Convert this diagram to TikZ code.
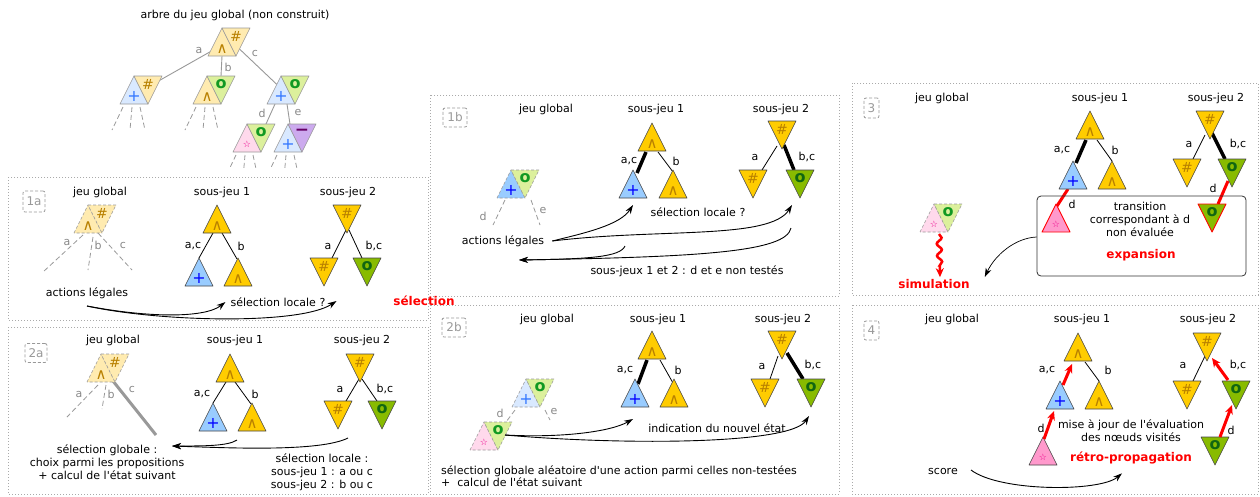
\documentclass[tikz,border=0pt]{standalone}
\usepackage{fontspec}
\setmainfont{DejaVu Sans}
\usetikzlibrary{calc,arrows.meta,decorations.pathmorphing}
\pgfdeclarelayer{back}
\pgfdeclarelayer{bg}
\pgfsetlayers{back,bg,main}
\definecolor{cGold}{HTML}{FFCC00}
\definecolor{cLY}{HTML}{FFEBB0}
\definecolor{cBlue}{HTML}{99CCFF}
\definecolor{cLB}{HTML}{D9E9FF}
\definecolor{cGreen}{HTML}{88BB00}
\definecolor{cLG}{HTML}{DCF09C}
\definecolor{cPink}{HTML}{FF99CC}
\definecolor{cLP}{HTML}{FFD9EC}
\definecolor{cPurple}{HTML}{CCAAEE}
\definecolor{cSymG}{HTML}{B88000}
\definecolor{cSymB}{HTML}{0000FF}
\definecolor{cSymLB}{HTML}{3377FF}
\definecolor{cSymGr}{HTML}{116611}
\definecolor{cSymLGr}{HTML}{119922}
\definecolor{cSymPu}{HTML}{660066}
\definecolor{cTri}{HTML}{444444}
\definecolor{cGtri}{HTML}{999999}
\definecolor{cGed}{HTML}{999999}
\definecolor{cLbl}{HTML}{888888}
\definecolor{cPanel}{HTML}{AAAAAA}
\definecolor{cTag}{HTML}{999999}
\definecolor{cBox}{HTML}{333333}
\newcommand\syW{\textcolor{cSymG}{\fontsize{15}{15}\selectfont ∧}}
\newcommand\syH{\textcolor{cSymG}{\fontsize{14}{14}\selectfont\#}}
\newcommand\syP{\textcolor{cSymB}{\fontsize{16}{16}\selectfont +}}
\newcommand\syPl{\textcolor{cSymLB}{\fontsize{16}{16}\selectfont +}}
\newcommand\syO{\textcolor{cSymGr}{\bfseries\fontsize{16}{16}\selectfont o}}
\newcommand\syOl{\textcolor{cSymLGr}{\bfseries\fontsize{16}{16}\selectfont o}}
\newcommand\syS{\textcolor{magenta}{\fontsize{9}{9}\selectfont ☆}}
\newcommand\syM{\textcolor{cSymPu}{\bfseries\fontsize{17}{17}\selectfont −}}
\newcommand\apos{\textquotesingle}
\tikzset{
 tbox/.style={rectangle,minimum width=28pt,minimum height=28pt,inner sep=0pt,outer sep=0pt},
 tri/.style={draw=cTri,line width=0.6pt,line join=round},
 gtri/.style={draw=cGtri,line width=0.6pt},
 dsh/.style={dash pattern=on 3pt off 2pt},
 redtri/.style={draw=red,line width=0.9pt},
 sym/.style={inner sep=0pt,outer sep=0pt},
 txt/.style={font=\fontsize{11}{13}\selectfont,inner sep=0pt,align=center},
 glbl/.style={txt,text=cLbl},
 rtxt/.style={font=\bfseries\fontsize{12}{14}\selectfont,text=red,inner sep=0pt},
 panel/.style={draw=cPanel,line width=0.8pt,dash pattern=on 1pt off 2pt},
 tag/.style={draw=cTag,line width=0.8pt,dash pattern=on 3pt off 2pt,rounded corners=2pt,text=cTag,font=\fontsize{12}{12}\selectfont,inner sep=0pt},
 ed/.style={line width=0.8pt},
 thk/.style={line width=3.5pt},
 ged/.style={draw=cGed,line width=0.9pt},
 gdl/.style={draw=cGed,line width=0.8pt,dash pattern=on 5pt off 3pt},
 rline/.style={draw=red,line width=3pt},
 arr/.style={-{Stealth[length=9pt,width=6pt]},line width=0.9pt},
 rarr/.style={-{Stealth[length=9pt,width=8pt]},draw=red,line width=3pt},
}
\newcommand\utri[5][]{%
  \node[tbox] (#2) at (#3) {};
  \draw[tri,fill=#4,#1] (#2.south west) -- (#2.north) -- (#2.south east) -- cycle;
  \node[sym] (#2-s) at ($(#2.south)!0.26!(#2.north)$) {#5};}
\newcommand\dtri[5][]{%
  \node[tbox] (#2) at (#3) {};
  \draw[tri,fill=#4,#1] (#2.north west) -- (#2.north east) -- (#2.south) -- cycle;
  \node[sym] (#2-s) at ($(#2.north)!0.3!(#2.south)$) {#5};}
\newcommand\gpair[8][]{%
  \utri[gtri,#1]{#2u}{#3,#4}{#5}{#7}%
  \dtri[gtri,#1]{#2d}{#3+14,#4}{#6}{#8}}
\newcommand\stubs[2]{%
  \draw[gdl] ($(#1.south)+(-11,3)$) -- ++(-11*#2,23*#2);
  \draw[gdl] ($(#1.south)+(-2,3)$) -- ++(-2*#2,23*#2);
  \draw[gdl] ($(#1.south)+(6,3)$) -- ++(5*#2,23*#2);}
\begin{document}
\begin{tikzpicture}[x=1pt,y=-1pt]
\useasboundingbox (0,0) rectangle (1260,496);
\begin{pgfonlayer}{back}\fill[white] (0,0) rectangle (1260,496);\end{pgfonlayer}

% panels
\draw[panel] (8,177) rectangle (428,320);
\draw[panel] (8,327) rectangle (428,494);
\draw[panel] (430,95) rectangle (839,296);
\draw[panel] (430,305) rectangle (839,494);
\draw[panel] (852,83) rectangle (1258,295);
\draw[panel] (852,305) rectangle (1258,494);

% ---------- top tree
\node[txt] (ttl) at (235,15) {arbre du jeu global (non construit)};
\gpair{T0}{222}{42}{cLY}{cLY}{\syW}{\syH}
\gpair{T1}{134}{90}{cLB}{cLY}{\syPl}{\syH}
\gpair{T2}{207}{90}{cLY}{cLG}{\syW}{\syOl}
\gpair{T3}{281}{90}{cLB}{cLG}{\syPl}{\syOl}
\gpair{T4}{247}{138}{cLP}{cLG}{\syS}{\syOl}
\gpair{T5}{288}{138}{cLB}{cPurple}{\syPl}{\syM}
\begin{pgfonlayer}{bg}
\draw[ged] ($(T0u.south west)!0.15!(T0u.north)$) -- ($(T1d.north east)!0.15!(T1d.south)$);
\draw[ged] (T0u.south) -- (T2d.north);
\draw[ged] ($(T0d.north east)!0.75!(T0d.south)$) -- ($(T3u.south west)!0.7!(T3u.north)$);
\draw[ged] ($(T3u.south)+(-6,0)$) -- ($(T4d.north)+(5,0)$);
\draw[ged] ($(T3u.south)+(6,0)$) -- ($(T5u.north)!0.2!(T5u.south east)$);
\stubs{T1u}{1}
\stubs{T2u}{1}
\stubs{T4u}{0.6}
\stubs{T5u}{0.6}
\end{pgfonlayer}
\node[glbl] (Tla) at (199,50) {a};
\node[glbl] (Tlb) at (228,67) {b};
\node[glbl] (Tlc) at (255,53) {c};
\node[glbl] (Tld) at (262,113) {d};
\node[glbl] (Tle) at (298,112) {e};

% ---------- panel 1a
\node[tag,minimum width=22pt,minimum height=21pt] (g1a) at (34,201.5) {1a};
\node[txt] (h1a0) at (100,192) {jeu global};
\node[txt] (h1a1) at (222,192) {sous-jeu 1};
\node[txt] (h1a2) at (348,192) {sous-jeu 2};
\gpair[dsh]{A}{88}{219}{cLY}{cLY}{\syW}{\syH}
\utri{Ar}{217,219}{cGold}{\syW}
\utri{Aa}{199,272}{cBlue}{\syP}
\utri{Ab}{238,272}{cGold}{\syW}
\dtri{Br}{347,219}{cGold}{\syH}
\dtri{Ba}{324,272}{cGold}{\syH}
\dtri{Bb}{367,272}{cGreen}{\syO}
\begin{pgfonlayer}{bg}
\draw[gdl] ($(Au.south)+(-5,2)$) -- ++(-40,37);
\draw[gdl] ($(Au.south)+(5,4)$) -- ++(-5,33);
\draw[gdl] ($(Au.south)+(10,0)$) -- ++(34,37);
\draw[ed] ($(Ar.south)+(-4,0)$) -- (Aa.north);
\draw[ed] ($(Ar.south)+(5,0)$) -- ($(Ab.north)+(-1,1)$);
\draw[ed] ($(Br.south)+(-1,-3)$) -- ($(Ba.north)+(8,0)$);
\draw[ed] ($(Br.south)+(2,-3)$) -- ($(Bb.north)+(-5,0)$);
\end{pgfonlayer}
\node[glbl] (l1aa) at (67,242) {a};
\node[glbl] (l1ab) at (98,245) {b};
\node[glbl] (l1ac) at (123,245) {c};
\node[txt] (l1a1) at (193,246) {a,c};
\node[txt] (l1a2) at (241,246) {b};
\node[txt] (l1a3) at (328,246) {a};
\node[txt] (l1a4) at (374,246) {b,c};
\node[txt] (al1) at (87,293) {actions légales};
\node[txt] (sl1) at (278,302) {sélection locale ?};
\draw[arr] ($(al1.center)+(0,13)$) .. controls (150,318) and (205,318) .. ($(sl1.west)+(-5,0)$);
\draw[arr] ($(al1.center)+(0,13)$) .. controls (160,322) and (300,325) .. ($(sl1.east)+(11,-1)$);

\node[rtxt] (sel) at (424,301) {sélection};

% ---------- panel 2a
\node[tag,minimum width=22pt,minimum height=19pt] (g2a) at (36,353) {2a};
\node[txt] (h2a0) at (113,340) {jeu global};
\node[txt] (h2a1) at (235,340) {sous-jeu 1};
\node[txt] (h2a2) at (362,340) {sous-jeu 2};
\gpair[dsh]{C}{101}{368}{cLY}{cLY}{\syW}{\syH}
\utri{Dr}{230,368}{cGold}{\syW}
\utri{Da}{213,417}{cBlue}{\syP}
\utri{Db}{252,417}{cGold}{\syW}
\dtri{Er}{360,368}{cGold}{\syH}
\dtri{Ea}{338,415}{cGold}{\syH}
\dtri{Eb}{382,415}{cGreen}{\syO}
\begin{pgfonlayer}{bg}
\draw[gdl] ($(Cu.south)+(-3,3)$) -- ++(-31,32);
\draw[gdl] ($(Cu.south)+(5,3)$) -- ++(-4,24);
\draw[draw=cGed,line width=3pt] ($(Cd.south)+(-2,-1)$) -- ++(43,54);
\draw[ed] ($(Dr.south)+(-4,0)$) -- (Da.north);
\draw[ed] ($(Dr.south)+(5,0)$) -- ($(Db.north)+(-1,1)$);
\draw[ed] ($(Er.south)+(-1,-3)$) -- ($(Ea.north)+(8,0)$);
\draw[ed] ($(Er.south)+(2,-3)$) -- ($(Eb.north)+(-5,0)$);
\end{pgfonlayer}
\node[glbl] (l2aa) at (79,394) {a};
\node[glbl] (l2ab) at (111,394) {b};
\node[glbl] (l2ac) at (132,389) {c};
\node[txt] (l2a1) at (202,394) {a,c};
\node[txt] (l2a2) at (255,394) {b};
\node[txt] (l2a3) at (340,389) {a};
\node[txt] (l2a4) at (385,389) {b,c};
\node[txt] (sg) at (107,462) {sélection globale :\\choix parmi les propositions\\+ calcul de l\apos état suivant};
\node[txt] (sl2) at (322,472) {sélection locale :\\sous-jeu 1 : a ou c\\sous-jeu 2 : b ou c};
\coordinate (sgin) at (172,446);
\draw[arr] ($(Db.south)+(-15,9)$) .. controls (228,446) and (205,446) .. (sgin);
\draw[arr] ($(Eb.south)+(-34,9)$) .. controls (320,452) and (230,448) .. (sgin);

% ---------- panel 1b
\node[tag,minimum width=24pt,minimum height=19pt] (g1b) at (455,117.5) {1b};
\node[txt] (h1b0) at (546,109) {jeu global};
\node[txt] (h1b1) at (656,109) {sous-jeu 1};
\node[txt] (h1b2) at (781,109) {sous-jeu 2};
\gpair[dsh]{F}{511}{184}{cBlue}{cLG}{\syP}{\syOl}
\utri{Gr}{652,137}{cGold}{\syW}
\utri{Ga}{633,184}{cBlue}{\syP}
\utri{Gb}{673,184}{cGold}{\syW}
\dtri{Hr}{782,135}{cGold}{\syH}
\dtri{Ha}{753,184}{cGold}{\syH}
\dtri{Hb}{800,184}{cGreen}{\syO}
\begin{pgfonlayer}{bg}
\draw[gdl] ($(Fu.south)+(-6,2)$) -- ++(-12,25);
\draw[gdl] ($(Fd.south)+(6,2)$) -- ++(9,25);
\draw[thk] ($(Gr.south)+(-6,1)$) -- ($(Ga.north)+(4,3)$);
\draw[ed] ($(Gr.south)+(6,1)$) -- ($(Gb.north)+(0,2)$);
\draw[ed] ($(Hr.south)+(-5,-3)$) -- ($(Ha.north)+(9,0)$);
\draw[thk] ($(Hr.south)+(2,-4)$) -- ($(Hb.north)+(-6,0)$);
\end{pgfonlayer}
\node[glbl] (l1bd) at (483,216) {d};
\node[glbl] (l1be) at (543,210) {e};
\node[txt] (l1b1) at (629,161) {a,c};
\node[txt] (l1b2) at (676,161) {b};
\node[txt] (l1b3) at (755,157) {a};
\node[txt] (l1b4) at (807,157) {b,c};
\node[txt] (al2) at (503,241) {actions légales};
\node[txt] (sl3) at (698,212) {sélection locale ?};
\node[txt] (nt1) at (687,271) {sous-jeux 1 et 2 : d et e non testés};
\draw[arr] ($(al2.east)+(8,0)$) .. controls (585,233) and (620,225) .. ($(Ga.south)+(0,7)$);
\draw[arr] ($(al2.east)+(8,0)$) .. controls (660,228) and (770,240) .. ($(Hb.south)+(-8,7)$);
\coordinate (ntin) at (519,260);
\draw[arr] ($(Ga.south)+(-8,48)$) .. controls (620,257) and (590,259) .. (ntin);
\draw[arr] ($(Hb.south)+(-9,30)$) .. controls (786,252) and (700,257) .. (ntin);

% ---------- panel 2b
\node[tag,minimum width=24pt,minimum height=19pt] (g2b) at (454,327.5) {2b};
\node[txt] (h2b0) at (547,319) {jeu global};
\node[txt] (h2b1) at (658,319) {sous-jeu 1};
\node[txt] (h2b2) at (783,319) {sous-jeu 2};
\gpair[dsh]{J}{526}{393}{cLB}{cLG}{\syPl}{\syOl}
\gpair[dsh]{K}{484}{436}{cLP}{cLG}{\syS}{\syOl}
\utri{Lr}{652,345}{cGold}{\syW}
\utri{La}{635,393}{cBlue}{\syP}
\utri{Lb}{674,393}{cGold}{\syW}
\dtri{Mr}{782,345}{cGold}{\syH}
\dtri{Ma}{765,393}{cGold}{\syH}
\dtri{Mb}{811,393}{cGreen}{\syO}
\begin{pgfonlayer}{bg}
\draw[gdl] ($(Ju.south)+(-11,3)$) -- ($(Kd.north)+(8,0)$);
\draw[gdl] ($(Jd.south)+(5,3)$) -- ++(5,10);
\draw[thk] ($(Lr.south)+(-5,1)$) -- ($(La.north)+(3,5)$);
\draw[ed] ($(Lr.south)+(8,1)$) -- ($(Lb.north)+(-1,4)$);
\draw[ed] ($(Mr.south)+(-4,-3)$) -- ($(Ma.north)+(5,0)$);
\draw[thk] ($(Mr.south)+(5,-6)$) -- ($(Mb.north)+(-8,0)$);
\end{pgfonlayer}
\node[glbl] (l2bd) at (500,413) {d};
\node[glbl] (l2be) at (554,411) {e};
\node[txt] (l2b1) at (625,370) {a,c};
\node[txt] (l2b2) at (678,370) {b};
\node[txt] (l2b3) at (762,366) {a};
\node[txt] (l2b4) at (813,365) {b,c};
\node[txt] (ne) at (717,428) {indication du nouvel état};
\draw[arr] ($(Kd.center)+(7,-1)$) .. controls (560,438) and (610,432) .. ($(La.south)+(-2,12)$);
\draw[arr] ($(Kd.center)+(7,-1)$) .. controls (620,445) and (790,445) .. ($(Mb.south)+(-2,9)$);
\node[txt,anchor=base west] (sga1) at (441,474) {sélection globale aléatoire d\apos une action parmi celles non-testées};
\node[txt,anchor=base west] (sga2) at (441,486) {+\ \ calcul de l\apos état suivant};

% ---------- panel 3
\node[tag,minimum width=15pt,minimum height=20pt] (g3) at (871.5,108) {3};
\node[txt] (h30) at (942,98) {jeu global};
\node[txt] (h31) at (1100,98) {sous-jeu 1};
\node[txt] (h32) at (1216,98) {sous-jeu 2};
\node[draw=cBox,line width=0.8pt,rounded corners=4pt,minimum width=209pt,minimum height=80pt,inner sep=0pt] (xbox) at (1141.5,236) {};
\gpair[dsh]{N}{934}{218}{cLP}{cLG}{\syS}{\syOl}
\utri{Pr}{1090,125}{cGold}{\syW}
\utri{Pa}{1073,175}{cBlue}{\syP}
\utri{Pb}{1112,175}{cGold}{\syW}
\utri[redtri]{Pc}{1056,218}{cPink}{\syS}
\dtri{Qr}{1210,125}{cGold}{\syH}
\dtri{Qa}{1187,173}{cGold}{\syH}
\dtri{Qb}{1232,173}{cGreen}{\syO}
\dtri[redtri]{Qc}{1212,218}{cGreen}{\syO}
\begin{pgfonlayer}{bg}
\draw[thk] ($(Pr.south)+(-4,1)$) -- ($(Pa.north)+(3,2)$);
\draw[ed] ($(Pr.south)+(7,1)$) -- (Pb.north);
\draw[rline] ($(Pa.south)+(-5,0)$) -- ($(Pc.north)+(1,2)$);
\draw[ed] ($(Qr.south)+(-5,-4)$) -- ($(Qa.north)+(6,0)$);
\draw[thk] ($(Qr.south)+(2,-6)$) -- ($(Qb.north)+(-7,0)$);
\draw[rline] ($(Qb.south)+(-4,-6)$) -- ($(Qc.north)+(6,0)$);
\end{pgfonlayer}
\node[txt] (l31) at (1062,150) {a,c};
\node[txt] (l32) at (1115,150) {b};
\node[txt] (l33) at (1072,204) {d};
\node[txt] (l34) at (1189,144) {a};
\node[txt] (l35) at (1238,144) {b,c};
\node[txt] (l36) at (1213,188) {d};
\node[txt] (tr) at (1140,219) {transition\\correspondant à d\\non évaluée};
\node[rtxt] (exp) at (1141,255) {expansion};
\node[rtxt] (sim) at (934,284) {simulation};
\draw[draw=red,line width=2.5pt,decorate,decoration={snake,amplitude=2.5pt,segment length=12pt,post length=9pt},-{Stealth[length=9pt,width=8pt]}] ($(Nu.south)+(5,2)$) -- ($(sim.north)+(6,-2)$);
\draw[arr,line width=0.7pt] ($(xbox.west)+(0,1)$) .. controls (1015,238) and (995,255) .. ($(sim.east)+(15,-7)$);

% ---------- panel 4
\node[tag,minimum width=15pt,minimum height=19pt] (g4) at (871.5,330.5) {4};
\node[txt] (h40) at (952,319) {jeu global};
\node[txt] (h41) at (1082,319) {sous-jeu 1};
\node[txt] (h42) at (1208,319) {sous-jeu 2};
\utri{Rr}{1078,347}{cGold}{\syW}
\utri{Ra}{1060,395}{cBlue}{\syP}
\utri{Rb}{1099,395}{cGold}{\syW}
\utri{Rc}{1043,451}{cPink}{\syS}
\dtri{Sr}{1207,347}{cGold}{\syH}
\dtri{Sa}{1187,395}{cGold}{\syH}
\dtri{Sb}{1236,395}{cGreen}{\syO}
\dtri{Sc}{1215,451}{cGreen}{\syO}
\begin{pgfonlayer}{bg}
\draw[ed] ($(Rr.south)+(7,1)$) -- (Rb.north);
\draw[ed] ($(Sr.south)+(-2,-5)$) -- ($(Sa.north)+(6,0)$);
\end{pgfonlayer}
\draw[rarr] ($(Rc.north)+(1,2)$) -- ($(Ra.south)+(-6,2)$);
\draw[rarr] ($(Ra.north)+(3,4)$) -- ($(Rr.south)+(-6,3)$);
\draw[rarr] ($(Sb.north)+(-8,-1)$) -- ($(Sr.south)+(5,-3)$);
\draw[rarr] ($(Sc.north)+(5,0)$) -- ($(Sb.south)+(-4,-4)$);
\node[txt] (l41) at (1047,370) {a,c};
\node[txt] (l42) at (1108,370) {b};
\node[txt] (l43) at (1041,428) {d};
\node[txt] (l44) at (1183,365) {a};
\node[txt] (l45) at (1238,365) {b,c};
\node[txt] (l46) at (1231,430) {d};
\node[txt] (mj) at (1131,430.5) {mise à jour de l\apos évaluation\\des nœuds visités};
\node[rtxt] (rp) at (1131,458) {rétro-propagation};
\node[txt] (sc) at (943,471) {score};
\draw[arr] ($(sc.east)+(13,-1)$) .. controls (1000,492) and (1100,492) .. ($(rp.south)+(-9,9)$);
\end{tikzpicture}
\end{document}
